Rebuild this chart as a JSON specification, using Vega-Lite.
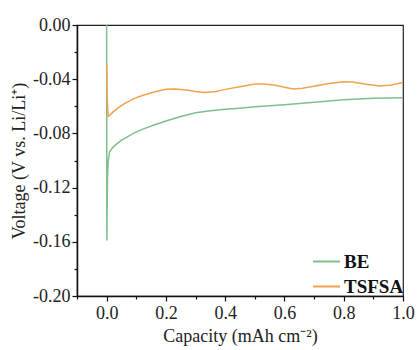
{
  "$schema": "https://vega.github.io/schema/vega-lite/v6.json",
  "autosize": {"type": "none"},
  "width": 326,
  "height": 271,
  "padding": {"left": 77, "top": 25, "right": 15, "bottom": 54},
  "background": "white",
  "config": {
    "view": {"stroke": "#222", "strokeWidth": 1.2},
    "font": "Liberation Serif, Times New Roman, serif",
    "axis": {"labelFont": "Liberation Serif, Times New Roman, serif", "titleFont": "Liberation Serif, Times New Roman, serif"}
  },
  "data": {
    "values": [
      {"series": "BE", "cap": 0.0, "v": 0.0},
      {"series": "BE", "cap": 0.0008, "v": -0.159},
      {"series": "BE", "cap": 0.002, "v": -0.13},
      {"series": "BE", "cap": 0.003, "v": -0.112},
      {"series": "BE", "cap": 0.005, "v": -0.101},
      {"series": "BE", "cap": 0.01, "v": -0.0935},
      {"series": "BE", "cap": 0.02, "v": -0.0905},
      {"series": "BE", "cap": 0.03, "v": -0.0885},
      {"series": "BE", "cap": 0.05, "v": -0.085},
      {"series": "BE", "cap": 0.07, "v": -0.0825},
      {"series": "BE", "cap": 0.09, "v": -0.080},
      {"series": "BE", "cap": 0.12, "v": -0.077},
      {"series": "BE", "cap": 0.16, "v": -0.0738},
      {"series": "BE", "cap": 0.2, "v": -0.0708},
      {"series": "BE", "cap": 0.25, "v": -0.0675},
      {"series": "BE", "cap": 0.3, "v": -0.0648},
      {"series": "BE", "cap": 0.35, "v": -0.0632},
      {"series": "BE", "cap": 0.4, "v": -0.0622},
      {"series": "BE", "cap": 0.45, "v": -0.0614},
      {"series": "BE", "cap": 0.5, "v": -0.0604},
      {"series": "BE", "cap": 0.55, "v": -0.0596},
      {"series": "BE", "cap": 0.6, "v": -0.0588},
      {"series": "BE", "cap": 0.65, "v": -0.058},
      {"series": "BE", "cap": 0.7, "v": -0.0571},
      {"series": "BE", "cap": 0.75, "v": -0.0561},
      {"series": "BE", "cap": 0.8, "v": -0.0552},
      {"series": "BE", "cap": 0.85, "v": -0.0546},
      {"series": "BE", "cap": 0.9, "v": -0.0541},
      {"series": "BE", "cap": 0.95, "v": -0.0538},
      {"series": "BE", "cap": 1.0, "v": -0.0536},
      {"series": "TSFSA", "cap": 0.0005, "v": -0.029},
      {"series": "TSFSA", "cap": 0.002, "v": -0.055},
      {"series": "TSFSA", "cap": 0.0055, "v": -0.0675},
      {"series": "TSFSA", "cap": 0.01, "v": -0.0668},
      {"series": "TSFSA", "cap": 0.02, "v": -0.0645},
      {"series": "TSFSA", "cap": 0.04, "v": -0.061},
      {"series": "TSFSA", "cap": 0.06, "v": -0.058},
      {"series": "TSFSA", "cap": 0.09, "v": -0.0545},
      {"series": "TSFSA", "cap": 0.12, "v": -0.052},
      {"series": "TSFSA", "cap": 0.16, "v": -0.0495},
      {"series": "TSFSA", "cap": 0.2, "v": -0.0474},
      {"series": "TSFSA", "cap": 0.23, "v": -0.0472},
      {"series": "TSFSA", "cap": 0.27, "v": -0.048},
      {"series": "TSFSA", "cap": 0.3, "v": -0.049},
      {"series": "TSFSA", "cap": 0.33, "v": -0.0498},
      {"series": "TSFSA", "cap": 0.37, "v": -0.049},
      {"series": "TSFSA", "cap": 0.4, "v": -0.0475},
      {"series": "TSFSA", "cap": 0.45, "v": -0.0456},
      {"series": "TSFSA", "cap": 0.5, "v": -0.0436},
      {"series": "TSFSA", "cap": 0.53, "v": -0.0435},
      {"series": "TSFSA", "cap": 0.57, "v": -0.0445},
      {"series": "TSFSA", "cap": 0.6, "v": -0.046},
      {"series": "TSFSA", "cap": 0.63, "v": -0.0472},
      {"series": "TSFSA", "cap": 0.66, "v": -0.0466},
      {"series": "TSFSA", "cap": 0.7, "v": -0.0452},
      {"series": "TSFSA", "cap": 0.75, "v": -0.0432},
      {"series": "TSFSA", "cap": 0.8, "v": -0.0418},
      {"series": "TSFSA", "cap": 0.83, "v": -0.042},
      {"series": "TSFSA", "cap": 0.87, "v": -0.0435},
      {"series": "TSFSA", "cap": 0.92, "v": -0.045},
      {"series": "TSFSA", "cap": 0.96, "v": -0.0442},
      {"series": "TSFSA", "cap": 1.0, "v": -0.0425}
    ]
  },
  "mark": {"type": "line", "strokeWidth": 1.5, "clip": true},
  "encoding": {
    "x": {
      "field": "cap",
      "type": "quantitative",
      "scale": {"domain": [-0.1, 1.0], "nice": false, "zero": false},
      "axis": {
        "title": "Capacity (mAh cm⁻²)",
        "values": [-0.1, 0, 0.1, 0.2, 0.3, 0.4, 0.5, 0.6, 0.7, 0.8, 0.9, 1.0],
        "labelExpr": "round(datum.value*10) % 2 === 0 ? format(datum.value, '.1f') : ''",
        "tickSize": {"condition": {"test": "round(datum.value*10) % 2 === 0", "value": 5}, "value": 3},
        "grid": false,
        "domainColor": "#111",
        "domainWidth": 1.5,
        "tickColor": "#111",
        "tickWidth": 1.2,
        "labelFontSize": 18,
        "labelColor": "#222",
        "labelPadding": 3,
        "labelFlush": false,
        "titleFontSize": 18,
        "titleFontWeight": "normal",
        "titleColor": "#222",
        "titlePadding": 5
      }
    },
    "y": {
      "field": "v",
      "type": "quantitative",
      "scale": {"domain": [-0.2, 0], "nice": false, "zero": false},
      "axis": {
        "title": "Voltage (V vs. Li/Li⁺)",
        "values": [-0.2, -0.18, -0.16, -0.14, -0.12, -0.1, -0.08, -0.06, -0.04, -0.02, 0],
        "labelExpr": "round(datum.value*100) % 4 === 0 ? replace(format(datum.value, '.2f'), '−', '-') : ''",
        "tickSize": {"condition": {"test": "round(datum.value*100) % 4 === 0", "value": 5}, "value": 3},
        "grid": false,
        "domainColor": "#111",
        "domainWidth": 1.5,
        "tickColor": "#111",
        "tickWidth": 1.2,
        "labelFontSize": 18,
        "labelColor": "#222",
        "labelPadding": 2,
        "labelFlush": false,
        "titleFontSize": 18,
        "titleFontWeight": "normal",
        "titleColor": "#222",
        "titlePadding": 4
      }
    },
    "color": {
      "field": "series",
      "type": "nominal",
      "scale": {"domain": ["BE", "TSFSA"], "range": ["#7fbf8e", "#f2a24c"]},
      "legend": {
        "title": null,
        "orient": "none",
        "legendX": 235,
        "legendY": 222,
        "symbolType": "stroke",
        "symbolSize": 729,
        "symbolStrokeWidth": 2,
        "labelFont": "Liberation Serif, Times New Roman, serif",
        "labelFontSize": 19,
        "labelFontWeight": "bold",
        "labelColor": "#111",
        "labelOffset": 3,
        "rowPadding": 0
      }
    }
  }
}
